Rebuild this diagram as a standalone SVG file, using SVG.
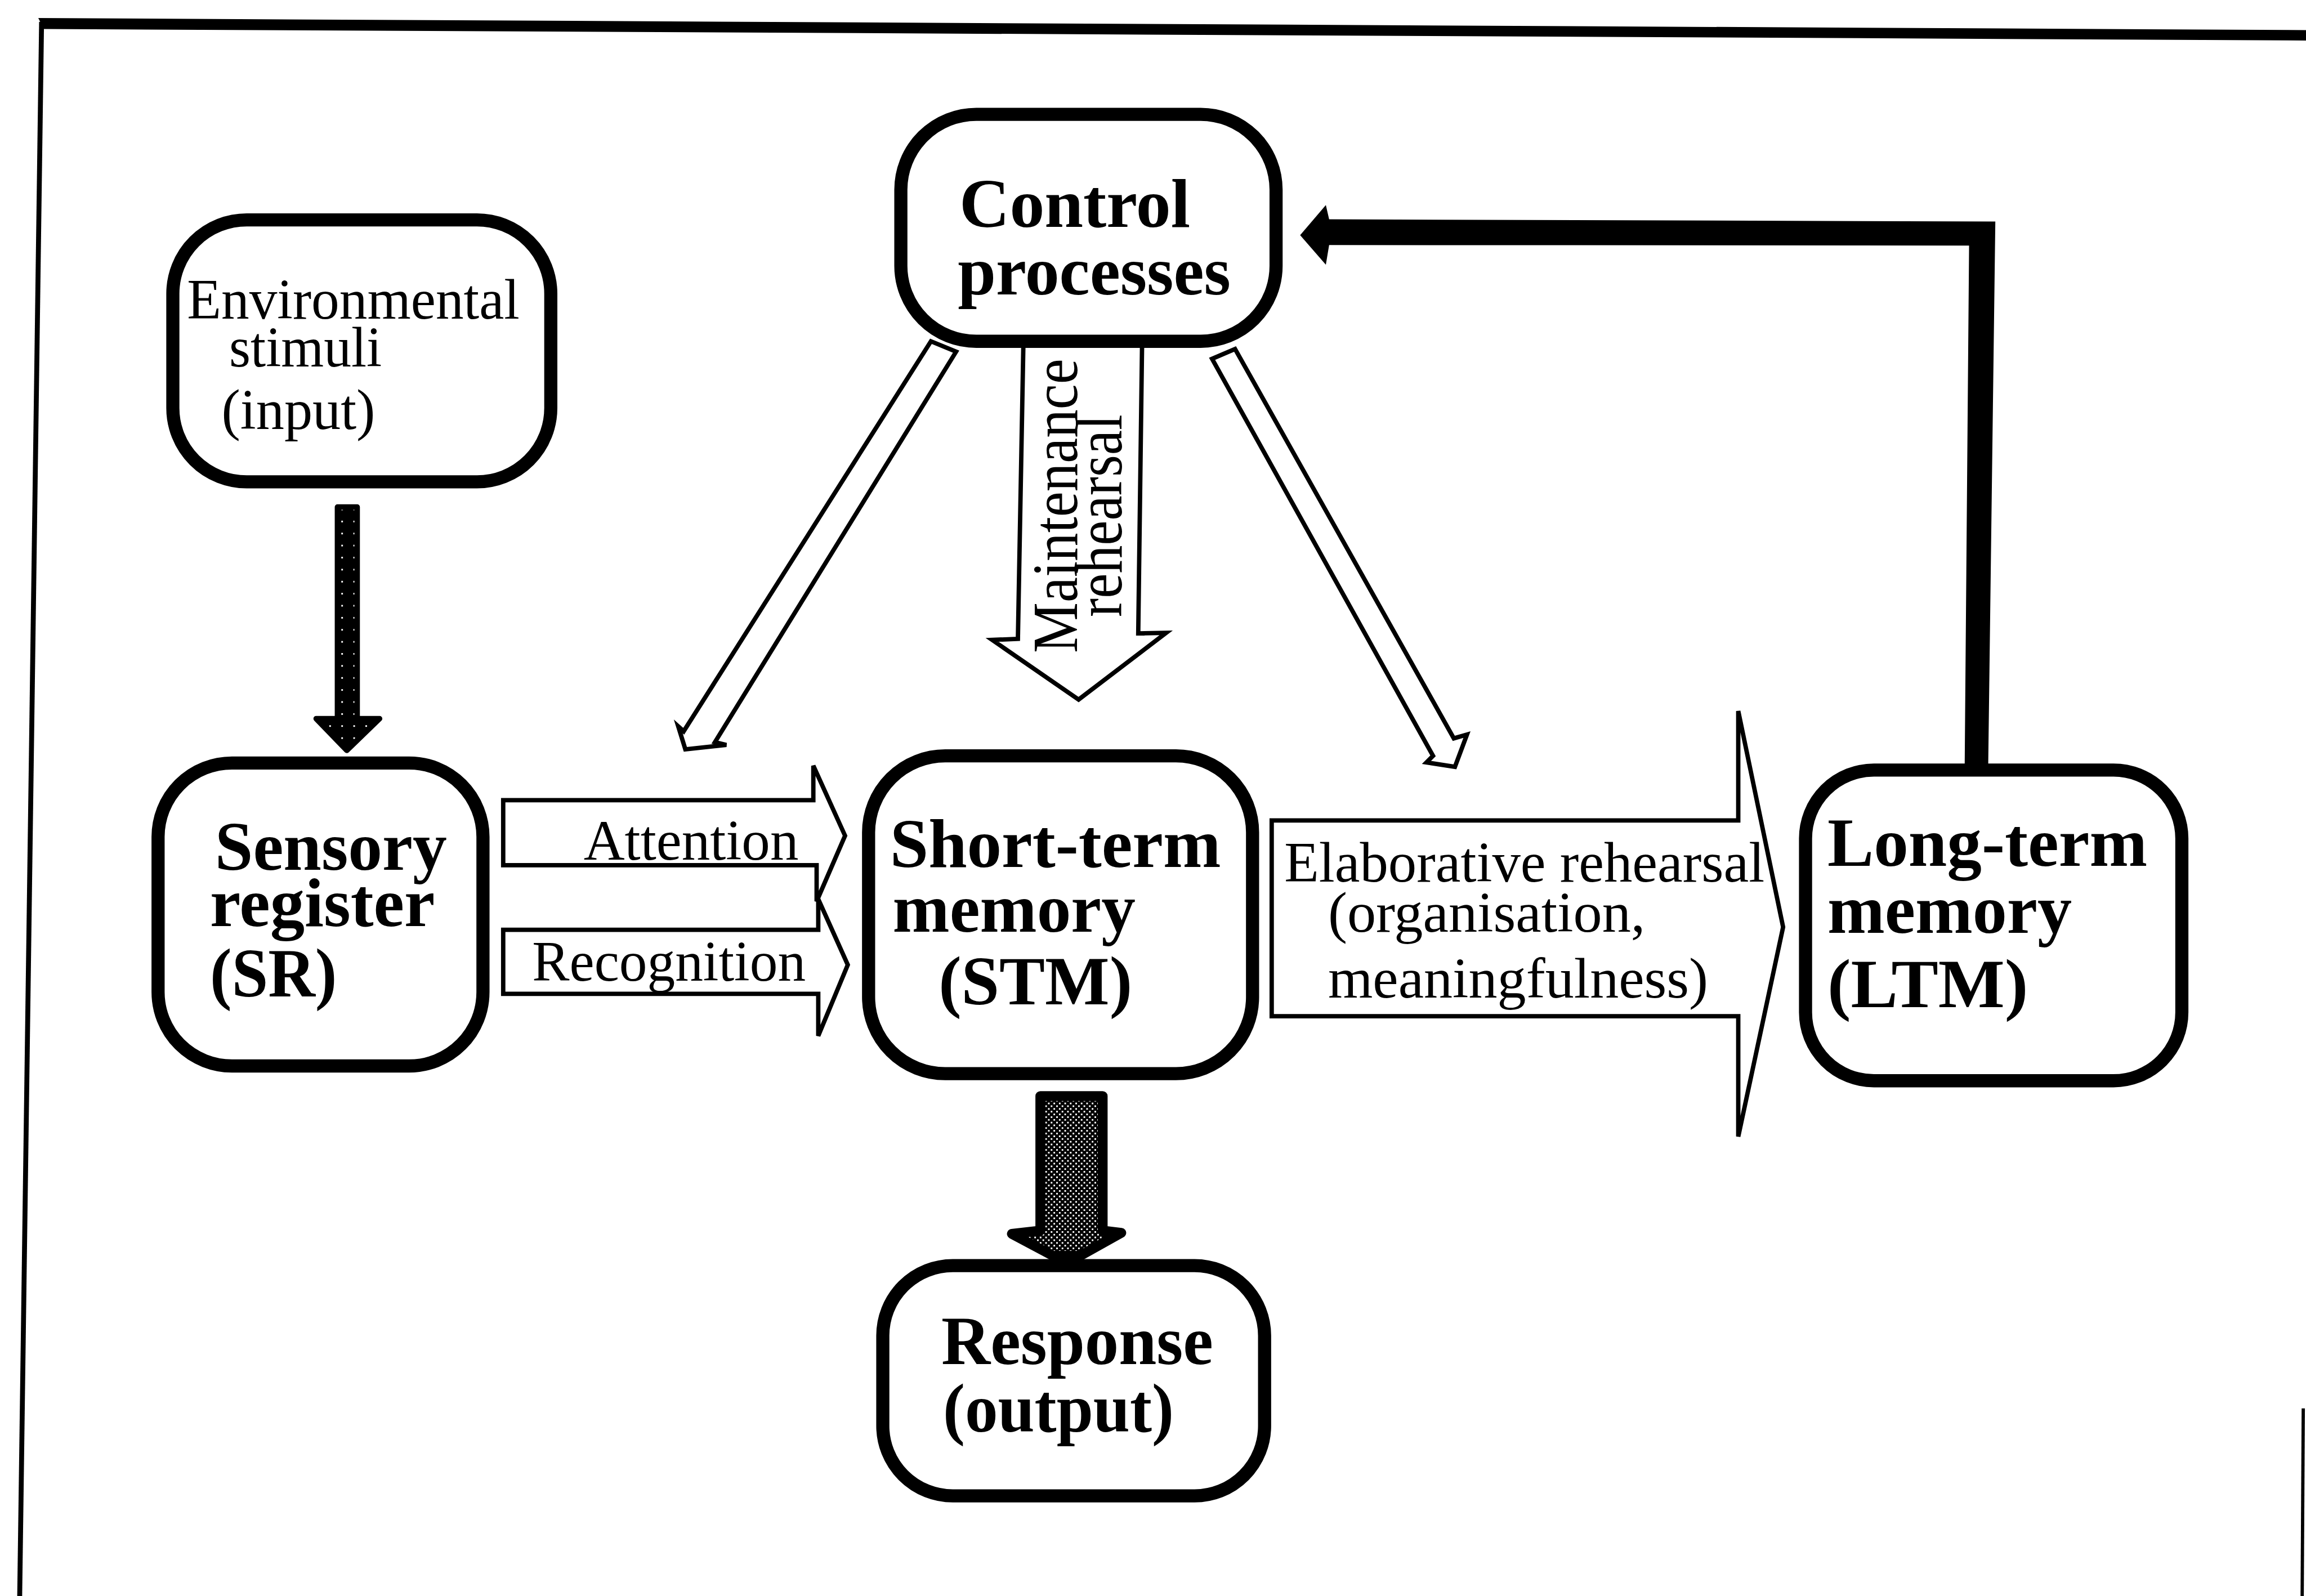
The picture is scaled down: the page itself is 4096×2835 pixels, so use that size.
<svg xmlns="http://www.w3.org/2000/svg" width="4096" height="2835" viewBox="0 0 4096 2835">
<defs>
<style>
.box{fill:#fff;stroke:#000;stroke-width:24}
.blk{fill:#fff;stroke:#000;stroke-width:8;stroke-linejoin:miter}
.r{font-family:"Liberation Serif","Times New Roman",serif;font-size:104px;fill:#000}
.b{font-family:"Liberation Serif","Times New Roman",serif;font-size:126px;font-weight:bold;fill:#000}
</style>
<pattern id="stip" width="10" height="10" patternUnits="userSpaceOnUse"><rect width="10" height="10" fill="#000"/><rect x="1" y="1" width="3" height="3" fill="#fff"/><rect x="6" y="6" width="3" height="3" fill="#fff"/></pattern>
<pattern id="stip2" width="22" height="22" patternUnits="userSpaceOnUse"><rect width="22" height="22" fill="#000"/><rect x="8" y="6" width="3" height="3" fill="#fff"/></pattern>
</defs>
<rect width="4096" height="2835" fill="#fff"/>
<g transform="scale(0.97154)">
<g id="frame">
<polygon points="70,33 4216,55 4216,74 80,53" fill="#000"/>
<line x1="76" y1="40" x2="36" y2="2918" stroke="#000" stroke-width="9"/>
<line x1="4211" y1="2575" x2="4209" y2="2918" stroke="#000" stroke-width="6"/>
</g>
<g id="connectors">
<polygon id="env-sr" points="617,927 653,927 653,1314 694,1314 634,1372 578,1314 617,1314" fill="url(#stip2)" stroke="#000" stroke-width="10" stroke-linejoin="round"/>
<polygon id="stm-resp" points="1902,2004 2016,2004 2016,2250 2050,2254 1975,2296 1925,2296 1850,2256 1902,2250" fill="url(#stip)" stroke="#000" stroke-width="18" stroke-linejoin="round"/>
<polygon id="ltm-ctrl" points="2377,430 2424,375 2430,401 3648,405 3635,1398 3592,1398 3600,449 2430,448 2424,484" fill="#000"/>
<polygon id="ctrl-left" class="blk" points="1702,624 1748,643 1307,1357 1328,1362 1253,1370 1240,1328 1250,1337"/>
<polygon id="ctrl-right" class="blk" points="2216,656 2258,638 2658,1350 2682,1343 2660,1402 2608,1394 2620,1382"/>
<polygon id="maint" class="blk" points="1871,630 2088,630 2081,1158 2132,1157 1972,1279 1814,1170 1861,1168"/>
<text class="r" transform="translate(1969,1194) rotate(-90)" textLength="538" lengthAdjust="spacingAndGlyphs" style="font-size:118px">Maintenance</text>
<text class="r" transform="translate(2050,1128) rotate(-90)" textLength="370" lengthAdjust="spacingAndGlyphs" style="font-size:120px">rehearsal</text>
<polygon id="attention" class="blk" points="920,1463 1487,1463 1487,1400 1545,1528 1493,1648 1493,1582 920,1582"/>
<text class="r" x="1067" y="1572" textLength="393" lengthAdjust="spacingAndGlyphs">Attention</text>
<polygon id="recognition" class="blk" points="920,1700 1496,1700 1496,1644 1550,1764 1496,1894 1496,1817 920,1817"/>
<text class="r" x="973" y="1793" textLength="500" lengthAdjust="spacingAndGlyphs">Recognition</text>
<polygon id="elaborative" class="blk" points="2325,1500 3178,1500 3178,1300 3260,1695 3178,2078 3178,1858 2325,1858"/>
<text class="r" x="2348" y="1612" textLength="878" lengthAdjust="spacingAndGlyphs">Elaborative rehearsal</text>
<text class="r" x="2428" y="1703" textLength="580" lengthAdjust="spacingAndGlyphs">(organisation,</text>
<text class="r" x="2428" y="1824" textLength="695" lengthAdjust="spacingAndGlyphs">meaningfulness)</text>
</g>
<g id="env">
<rect class="box" x="316" y="402" width="691" height="479" rx="135"/>
<text class="r" x="342" y="583" textLength="608" lengthAdjust="spacingAndGlyphs">Environmental</text>
<text class="r" x="419" y="670" textLength="279" lengthAdjust="spacingAndGlyphs">stimuli</text>
<text class="r" x="405" y="784" textLength="281" lengthAdjust="spacingAndGlyphs">(input)</text>
</g>
<g id="control">
<rect class="box" x="1647" y="209" width="686" height="415" rx="138"/>
<text class="b" x="1754" y="415" textLength="422" lengthAdjust="spacingAndGlyphs">Control</text>
<text class="b" x="1751" y="538" textLength="499" lengthAdjust="spacingAndGlyphs">processes</text>
</g>
<g id="sr">
<rect class="box" x="289" y="1395" width="594" height="554" rx="135"/>
<text class="b" x="393" y="1590" textLength="424" lengthAdjust="spacingAndGlyphs">Sensory</text>
<text class="b" x="384" y="1693" textLength="411" lengthAdjust="spacingAndGlyphs">register</text>
<text class="b" x="384" y="1822" textLength="232" lengthAdjust="spacingAndGlyphs">(SR)</text>
</g>
<g id="stm">
<rect class="box" x="1588" y="1382" width="702" height="581" rx="140"/>
<text class="b" x="1627" y="1585" textLength="605" lengthAdjust="spacingAndGlyphs">Short-term</text>
<text class="b" x="1632" y="1703" textLength="444" lengthAdjust="spacingAndGlyphs">memory</text>
<text class="b" x="1716" y="1836" textLength="354" lengthAdjust="spacingAndGlyphs">(STM)</text>
</g>
<g id="ltm">
<rect class="box" x="3301" y="1408" width="688" height="568" rx="125"/>
<text class="b" x="3341" y="1583" textLength="585" lengthAdjust="spacingAndGlyphs">Long-term</text>
<text class="b" x="3341" y="1706" textLength="447" lengthAdjust="spacingAndGlyphs">memory</text>
<text class="b" x="3341" y="1841" textLength="367" lengthAdjust="spacingAndGlyphs">(LTM)</text>
</g>
<g id="response">
<rect class="box" x="1614" y="2314" width="698" height="421" rx="128"/>
<text class="b" x="1721" y="2494" textLength="497" lengthAdjust="spacingAndGlyphs">Response</text>
<text class="b" x="1724" y="2618" textLength="422" lengthAdjust="spacingAndGlyphs">(output)</text>
</g>
</g>
</svg>
